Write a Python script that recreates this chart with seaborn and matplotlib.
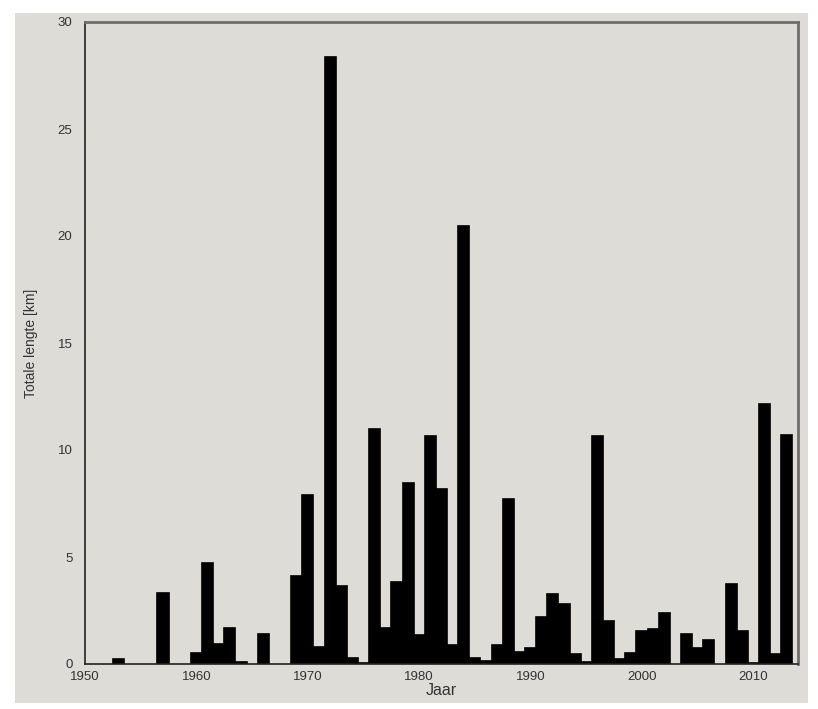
import matplotlib
matplotlib.use("Agg")
import matplotlib.pyplot as plt
from matplotlib.patches import Rectangle
import seaborn as sns

# Totale lengte per jaar (km)
years = [1953, 1957, 1960, 1961, 1962, 1963, 1964, 1966, 1969, 1970,
         1971, 1972, 1973, 1974, 1975, 1976, 1977, 1978, 1979, 1980,
         1981, 1982, 1983, 1984, 1985, 1986, 1987, 1988, 1989, 1990,
         1991, 1992, 1993, 1994, 1995, 1996, 1997, 1998, 1999, 2000,
         2001, 2002, 2004, 2005, 2006, 2008, 2009, 2010, 2011, 2012,
         2013]
lengths = [0.25, 3.3, 0.5, 4.7, 0.95, 1.7, 0.1, 1.4, 4.1, 7.9,
           0.8, 28.35, 3.65, 0.3, 0.05, 11.0, 1.7, 3.85, 8.45, 1.35,
           10.65, 8.2, 0.9, 20.45, 0.3, 0.12, 0.9, 7.7, 0.55, 0.75,
           2.2, 3.25, 2.8, 0.45, 0.08, 10.65, 2.0, 0.25, 0.5, 1.55,
           1.65, 2.4, 1.4, 0.75, 1.1, 3.75, 1.55, 0.05, 12.15, 0.45,
           10.7]
x_ticks = [1950, 1960, 1970, 1980, 1990, 2000, 2010]
y_ticks = [0, 5, 10, 15, 20, 25, 30]

bg = "#dddcd7"
sns.set_style("white")
plt.rcParams["font.family"] = ["Liberation Sans", "DejaVu Sans"]

fig = plt.figure(figsize=(8.18, 7.09), dpi=100, facecolor="white")
fig.patches.append(Rectangle((15 / 818, 6 / 709), 793 / 818, 690 / 709,
                             transform=fig.transFigure, facecolor=bg,
                             edgecolor="none", zorder=-10))
ax = fig.add_axes([85 / 818, 1 - 664 / 709, 713 / 818, 642 / 709])
ax.set_facecolor(bg)

sns.barplot(x=years, y=lengths, native_scale=True, color="black",
            width=1.0, saturation=1, edgecolor="black", linewidth=1.2, ax=ax)

ax.set_xlim(1950, 2014)
ax.set_ylim(0, 30)
ax.set_xticks(x_ticks)
ax.set_yticks(y_ticks)
ax.tick_params(axis="x", length=0, pad=5, labelsize=9.5, labelcolor="#333333")
ax.tick_params(axis="y", direction="in", length=5, width=1, color="#555555",
               pad=9, labelsize=9.5, labelcolor="#333333")

for side in ["left", "bottom"]:
    ax.spines[side].set_color("#222222")
    ax.spines[side].set_linewidth(1.2)
for side in ["top", "right"]:
    ax.spines[side].set_visible(True)
    ax.spines[side].set_color("#6e6e6e")
    ax.spines[side].set_linewidth(2)

ax.set_xlabel("Jaar", fontsize=11.5, color="#333333", labelpad=0)
ax.set_ylabel("Totale lengte [km]", fontsize=10, color="#333333", labelpad=14)

fig.savefig("out.png", dpi=100, facecolor="white")
